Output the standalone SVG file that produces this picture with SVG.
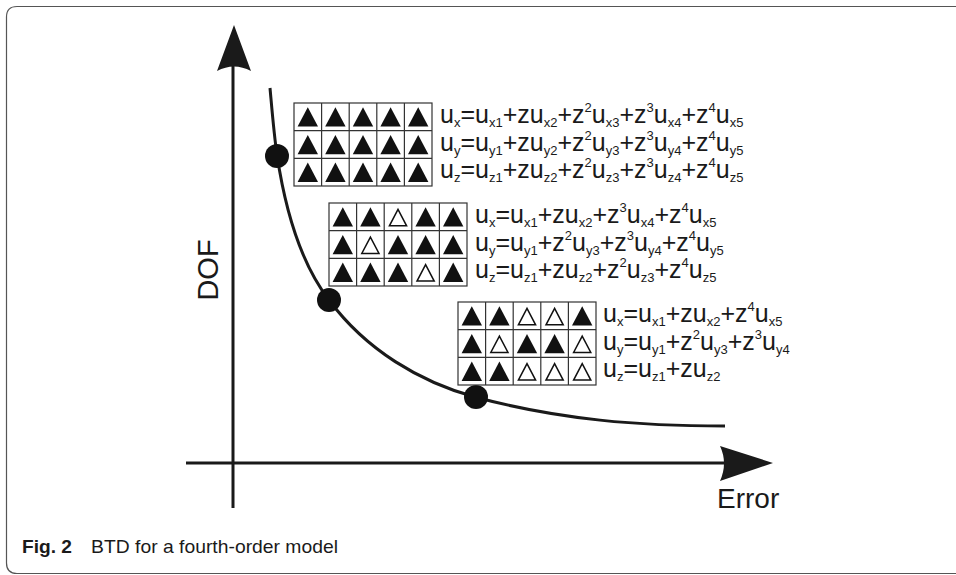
<svg xmlns="http://www.w3.org/2000/svg" xmlns:xlink="http://www.w3.org/1999/xlink" width="956" height="575" viewBox="0 0 956 575">
<style>
.eq{font-family:"Liberation Sans",Arial,sans-serif;font-size:25px;fill:#1a1a1a}
.s{font-size:13px}
.grid{fill:#fff;stroke:#333;stroke-width:1.2}
.gl{stroke:#333;stroke-width:1.2;fill:none}
.ax{stroke:#1a1a1a;stroke-width:3;fill:none}
.lbl{font-family:"Liberation Sans",Arial,sans-serif;fill:#1a1a1a}
.dot{fill:#111}
</style>
<defs>
<path id="tf" d="M3.6,23.6 L24,23.6 L13.8,4.3 Z" fill="#111"/>
<path id="th" d="M5.2,22.8 L22.4,22.8 L13.8,6.4 Z" fill="#fff" stroke="#111" stroke-width="1.5"/>
<g id="gridlines">
<rect class="grid" x="0" y="0" width="138" height="83"/>
<path class="gl" d="M27.6,0V83M55.2,0V83M82.8,0V83M110.4,0V83M0,27.7H138M0,55.3H138"/>
</g>
</defs>
<rect width="956" height="575" fill="#fff"/>
<path d="M956,6.5 H17 Q6.5,6.5 6.5,17 V563 Q6.5,573.5 17,573.5 H956" fill="none" stroke="#555" stroke-width="1.2"/>

<g id="connectors">
<path class="ax" d="M233,60 V508"/>
<path d="M234,25 L251,71 Q234,62 217,71 Z" fill="#1a1a1a"/>
<path class="ax" d="M186,463 H730"/>
<path d="M773,463 L720,446 Q728,463 720,481 Z" fill="#1a1a1a"/>
<path class="ax" d="M270,88 C272,110 274,135 277,155 C286,215 302,265 329,300 C366,350 420,382 475,397 C560,420 640,426 725,426"/>
</g>

<g id="axis-labels">
<text class="lbl" font-size="29" text-anchor="middle" transform="translate(218,270) rotate(-90)">DOF</text>
<text class="lbl" font-size="28" x="717" y="508">Error</text>
</g>

<g id="dots">
<circle class="dot" cx="277" cy="156" r="12"/>
<circle class="dot" cx="329" cy="300" r="12"/>
<circle class="dot" cx="476" cy="397" r="12"/>
</g>

<g id="grid1" transform="translate(294,103)">
<use xlink:href="#gridlines"/>
<use xlink:href="#tf" x="0" y="0"/><use xlink:href="#tf" x="27.6" y="0"/><use xlink:href="#tf" x="55.2" y="0"/><use xlink:href="#tf" x="82.8" y="0"/><use xlink:href="#tf" x="110.4" y="0"/>
<use xlink:href="#tf" x="0" y="27.7"/><use xlink:href="#tf" x="27.6" y="27.7"/><use xlink:href="#tf" x="55.2" y="27.7"/><use xlink:href="#tf" x="82.8" y="27.7"/><use xlink:href="#tf" x="110.4" y="27.7"/>
<use xlink:href="#tf" x="0" y="55.3"/><use xlink:href="#tf" x="27.6" y="55.3"/><use xlink:href="#tf" x="55.2" y="55.3"/><use xlink:href="#tf" x="82.8" y="55.3"/><use xlink:href="#tf" x="110.4" y="55.3"/>
<text class="eq" x="146" y="20">u<tspan class="s" dy="4">x</tspan><tspan dy="-4">=u</tspan><tspan class="s" dy="4">x1</tspan><tspan dy="-4">+zu</tspan><tspan class="s" dy="4">x2</tspan><tspan dy="-4">+z</tspan><tspan class="s" dy="-11">2</tspan><tspan dy="11">u</tspan><tspan class="s" dy="4">x3</tspan><tspan dy="-4">+z</tspan><tspan class="s" dy="-11">3</tspan><tspan dy="11">u</tspan><tspan class="s" dy="4">x4</tspan><tspan dy="-4">+z</tspan><tspan class="s" dy="-11">4</tspan><tspan dy="11">u</tspan><tspan class="s" dy="4">x5</tspan></text>
<text class="eq" x="146" y="47.7">u<tspan class="s" dy="4">y</tspan><tspan dy="-4">=u</tspan><tspan class="s" dy="4">y1</tspan><tspan dy="-4">+zu</tspan><tspan class="s" dy="4">y2</tspan><tspan dy="-4">+z</tspan><tspan class="s" dy="-11">2</tspan><tspan dy="11">u</tspan><tspan class="s" dy="4">y3</tspan><tspan dy="-4">+z</tspan><tspan class="s" dy="-11">3</tspan><tspan dy="11">u</tspan><tspan class="s" dy="4">y4</tspan><tspan dy="-4">+z</tspan><tspan class="s" dy="-11">4</tspan><tspan dy="11">u</tspan><tspan class="s" dy="4">y5</tspan></text>
<text class="eq" x="146" y="75.3">u<tspan class="s" dy="4">z</tspan><tspan dy="-4">=u</tspan><tspan class="s" dy="4">z1</tspan><tspan dy="-4">+zu</tspan><tspan class="s" dy="4">z2</tspan><tspan dy="-4">+z</tspan><tspan class="s" dy="-11">2</tspan><tspan dy="11">u</tspan><tspan class="s" dy="4">z3</tspan><tspan dy="-4">+z</tspan><tspan class="s" dy="-11">3</tspan><tspan dy="11">u</tspan><tspan class="s" dy="4">z4</tspan><tspan dy="-4">+z</tspan><tspan class="s" dy="-11">4</tspan><tspan dy="11">u</tspan><tspan class="s" dy="4">z5</tspan></text>
</g>

<g id="grid2" transform="translate(329,203)">
<use xlink:href="#gridlines"/>
<use xlink:href="#tf" x="0" y="0"/><use xlink:href="#tf" x="27.6" y="0"/><use xlink:href="#th" x="55.2" y="0"/><use xlink:href="#tf" x="82.8" y="0"/><use xlink:href="#tf" x="110.4" y="0"/>
<use xlink:href="#tf" x="0" y="27.7"/><use xlink:href="#th" x="27.6" y="27.7"/><use xlink:href="#tf" x="55.2" y="27.7"/><use xlink:href="#tf" x="82.8" y="27.7"/><use xlink:href="#tf" x="110.4" y="27.7"/>
<use xlink:href="#tf" x="0" y="55.3"/><use xlink:href="#tf" x="27.6" y="55.3"/><use xlink:href="#tf" x="55.2" y="55.3"/><use xlink:href="#th" x="82.8" y="55.3"/><use xlink:href="#tf" x="110.4" y="55.3"/>
<text class="eq" x="146" y="20">u<tspan class="s" dy="4">x</tspan><tspan dy="-4">=u</tspan><tspan class="s" dy="4">x1</tspan><tspan dy="-4">+zu</tspan><tspan class="s" dy="4">x2</tspan><tspan dy="-4">+z</tspan><tspan class="s" dy="-11">3</tspan><tspan dy="11">u</tspan><tspan class="s" dy="4">x4</tspan><tspan dy="-4">+z</tspan><tspan class="s" dy="-11">4</tspan><tspan dy="11">u</tspan><tspan class="s" dy="4">x5</tspan></text>
<text class="eq" x="146" y="47.7">u<tspan class="s" dy="4">y</tspan><tspan dy="-4">=u</tspan><tspan class="s" dy="4">y1</tspan><tspan dy="-4">+z</tspan><tspan class="s" dy="-11">2</tspan><tspan dy="11">u</tspan><tspan class="s" dy="4">y3</tspan><tspan dy="-4">+z</tspan><tspan class="s" dy="-11">3</tspan><tspan dy="11">u</tspan><tspan class="s" dy="4">y4</tspan><tspan dy="-4">+z</tspan><tspan class="s" dy="-11">4</tspan><tspan dy="11">u</tspan><tspan class="s" dy="4">y5</tspan></text>
<text class="eq" x="146" y="75.3">u<tspan class="s" dy="4">z</tspan><tspan dy="-4">=u</tspan><tspan class="s" dy="4">z1</tspan><tspan dy="-4">+zu</tspan><tspan class="s" dy="4">z2</tspan><tspan dy="-4">+z</tspan><tspan class="s" dy="-11">2</tspan><tspan dy="11">u</tspan><tspan class="s" dy="4">z3</tspan><tspan dy="-4">+z</tspan><tspan class="s" dy="-11">4</tspan><tspan dy="11">u</tspan><tspan class="s" dy="4">z5</tspan></text>
</g>

<g id="grid3" transform="translate(458,302)">
<use xlink:href="#gridlines"/>
<use xlink:href="#tf" x="0" y="0"/><use xlink:href="#tf" x="27.6" y="0"/><use xlink:href="#th" x="55.2" y="0"/><use xlink:href="#th" x="82.8" y="0"/><use xlink:href="#tf" x="110.4" y="0"/>
<use xlink:href="#tf" x="0" y="27.7"/><use xlink:href="#th" x="27.6" y="27.7"/><use xlink:href="#tf" x="55.2" y="27.7"/><use xlink:href="#tf" x="82.8" y="27.7"/><use xlink:href="#th" x="110.4" y="27.7"/>
<use xlink:href="#tf" x="0" y="55.3"/><use xlink:href="#tf" x="27.6" y="55.3"/><use xlink:href="#th" x="55.2" y="55.3"/><use xlink:href="#th" x="82.8" y="55.3"/><use xlink:href="#th" x="110.4" y="55.3"/>
<text class="eq" x="145" y="20">u<tspan class="s" dy="4">x</tspan><tspan dy="-4">=u</tspan><tspan class="s" dy="4">x1</tspan><tspan dy="-4">+zu</tspan><tspan class="s" dy="4">x2</tspan><tspan dy="-4">+z</tspan><tspan class="s" dy="-11">4</tspan><tspan dy="11">u</tspan><tspan class="s" dy="4">x5</tspan></text>
<text class="eq" x="145" y="47.7">u<tspan class="s" dy="4">y</tspan><tspan dy="-4">=u</tspan><tspan class="s" dy="4">y1</tspan><tspan dy="-4">+z</tspan><tspan class="s" dy="-11">2</tspan><tspan dy="11">u</tspan><tspan class="s" dy="4">y3</tspan><tspan dy="-4">+z</tspan><tspan class="s" dy="-11">3</tspan><tspan dy="11">u</tspan><tspan class="s" dy="4">y4</tspan></text>
<text class="eq" x="145" y="75.3">u<tspan class="s" dy="4">z</tspan><tspan dy="-4">=u</tspan><tspan class="s" dy="4">z1</tspan><tspan dy="-4">+zu</tspan><tspan class="s" dy="4">z2</tspan></text>
</g>

<g id="caption">
<text class="lbl" font-size="19" font-weight="bold" x="22" y="553" textLength="50" lengthAdjust="spacingAndGlyphs" fill="#231f20">Fig. 2</text>
<text class="lbl" font-size="19" x="91" y="553" textLength="247" lengthAdjust="spacingAndGlyphs" fill="#231f20">BTD for a fourth-order model</text>
</g>
</svg>
